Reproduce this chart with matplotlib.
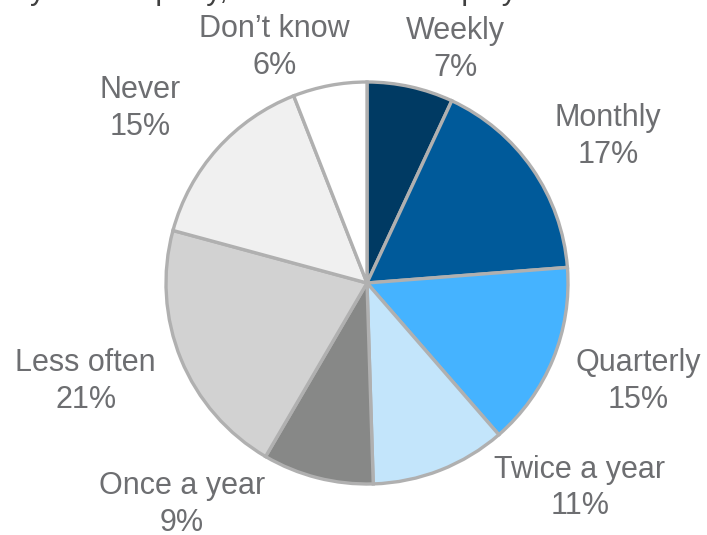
import numpy as np
import matplotlib.pyplot as plt

plt.rcParams['font.family'] = ['Liberation Sans', 'DejaVu Sans']

labels = ["Weekly", "Monthly", "Quarterly", "Twice a year", "Once a year",
          "Less often", "Never", "Don\u2019t know"]
values = [7, 17, 15, 11, 9, 21, 15, 6]
colors = ["#003A63", "#005A9A", "#45B3FF", "#C3E5FB", "#878887",
          "#D2D2D2", "#F0F0F0", "#FFFFFF"]

# label centres in units of pie radius
label_pos = [(0.44, 1.16), (1.20, 0.73), (1.35, -0.49), (1.06, -1.02),
             (-0.92, -1.10), (-1.40, -0.49), (-1.13, 0.87), (-0.46, 1.17)]

W, H = 707, 535
cx, cy, R = 367, 283, 201

fig = plt.figure(figsize=(W / 100, H / 100), dpi=100)
ax = fig.add_axes([0, 0, 1, 1])
ax.pie(values, colors=colors, startangle=90, counterclock=False, radius=1,
       wedgeprops=dict(edgecolor="#B0B0B0", linewidth=2.4))
ax.set_xlim(-cx / R, (W - cx) / R)
ax.set_ylim(-(H - cy) / R, cy / R)
ax.set_aspect("equal")
ax.axis("off")

for lab, v, (x, y) in zip(labels, values, label_pos):
    ax.text(x, y, f"{lab}\n{v}%", ha="center", va="center", fontsize=22,
            color="#6D6E71", linespacing=1.3)

# title sits above the canvas, only the descenders show
fig.text(-0.005, 1.0 + 1 / H, "In your company, how often do employees...",
         fontsize=22, color="#404040", ha="left", va="baseline")

fig.savefig("out.png", dpi=100)
